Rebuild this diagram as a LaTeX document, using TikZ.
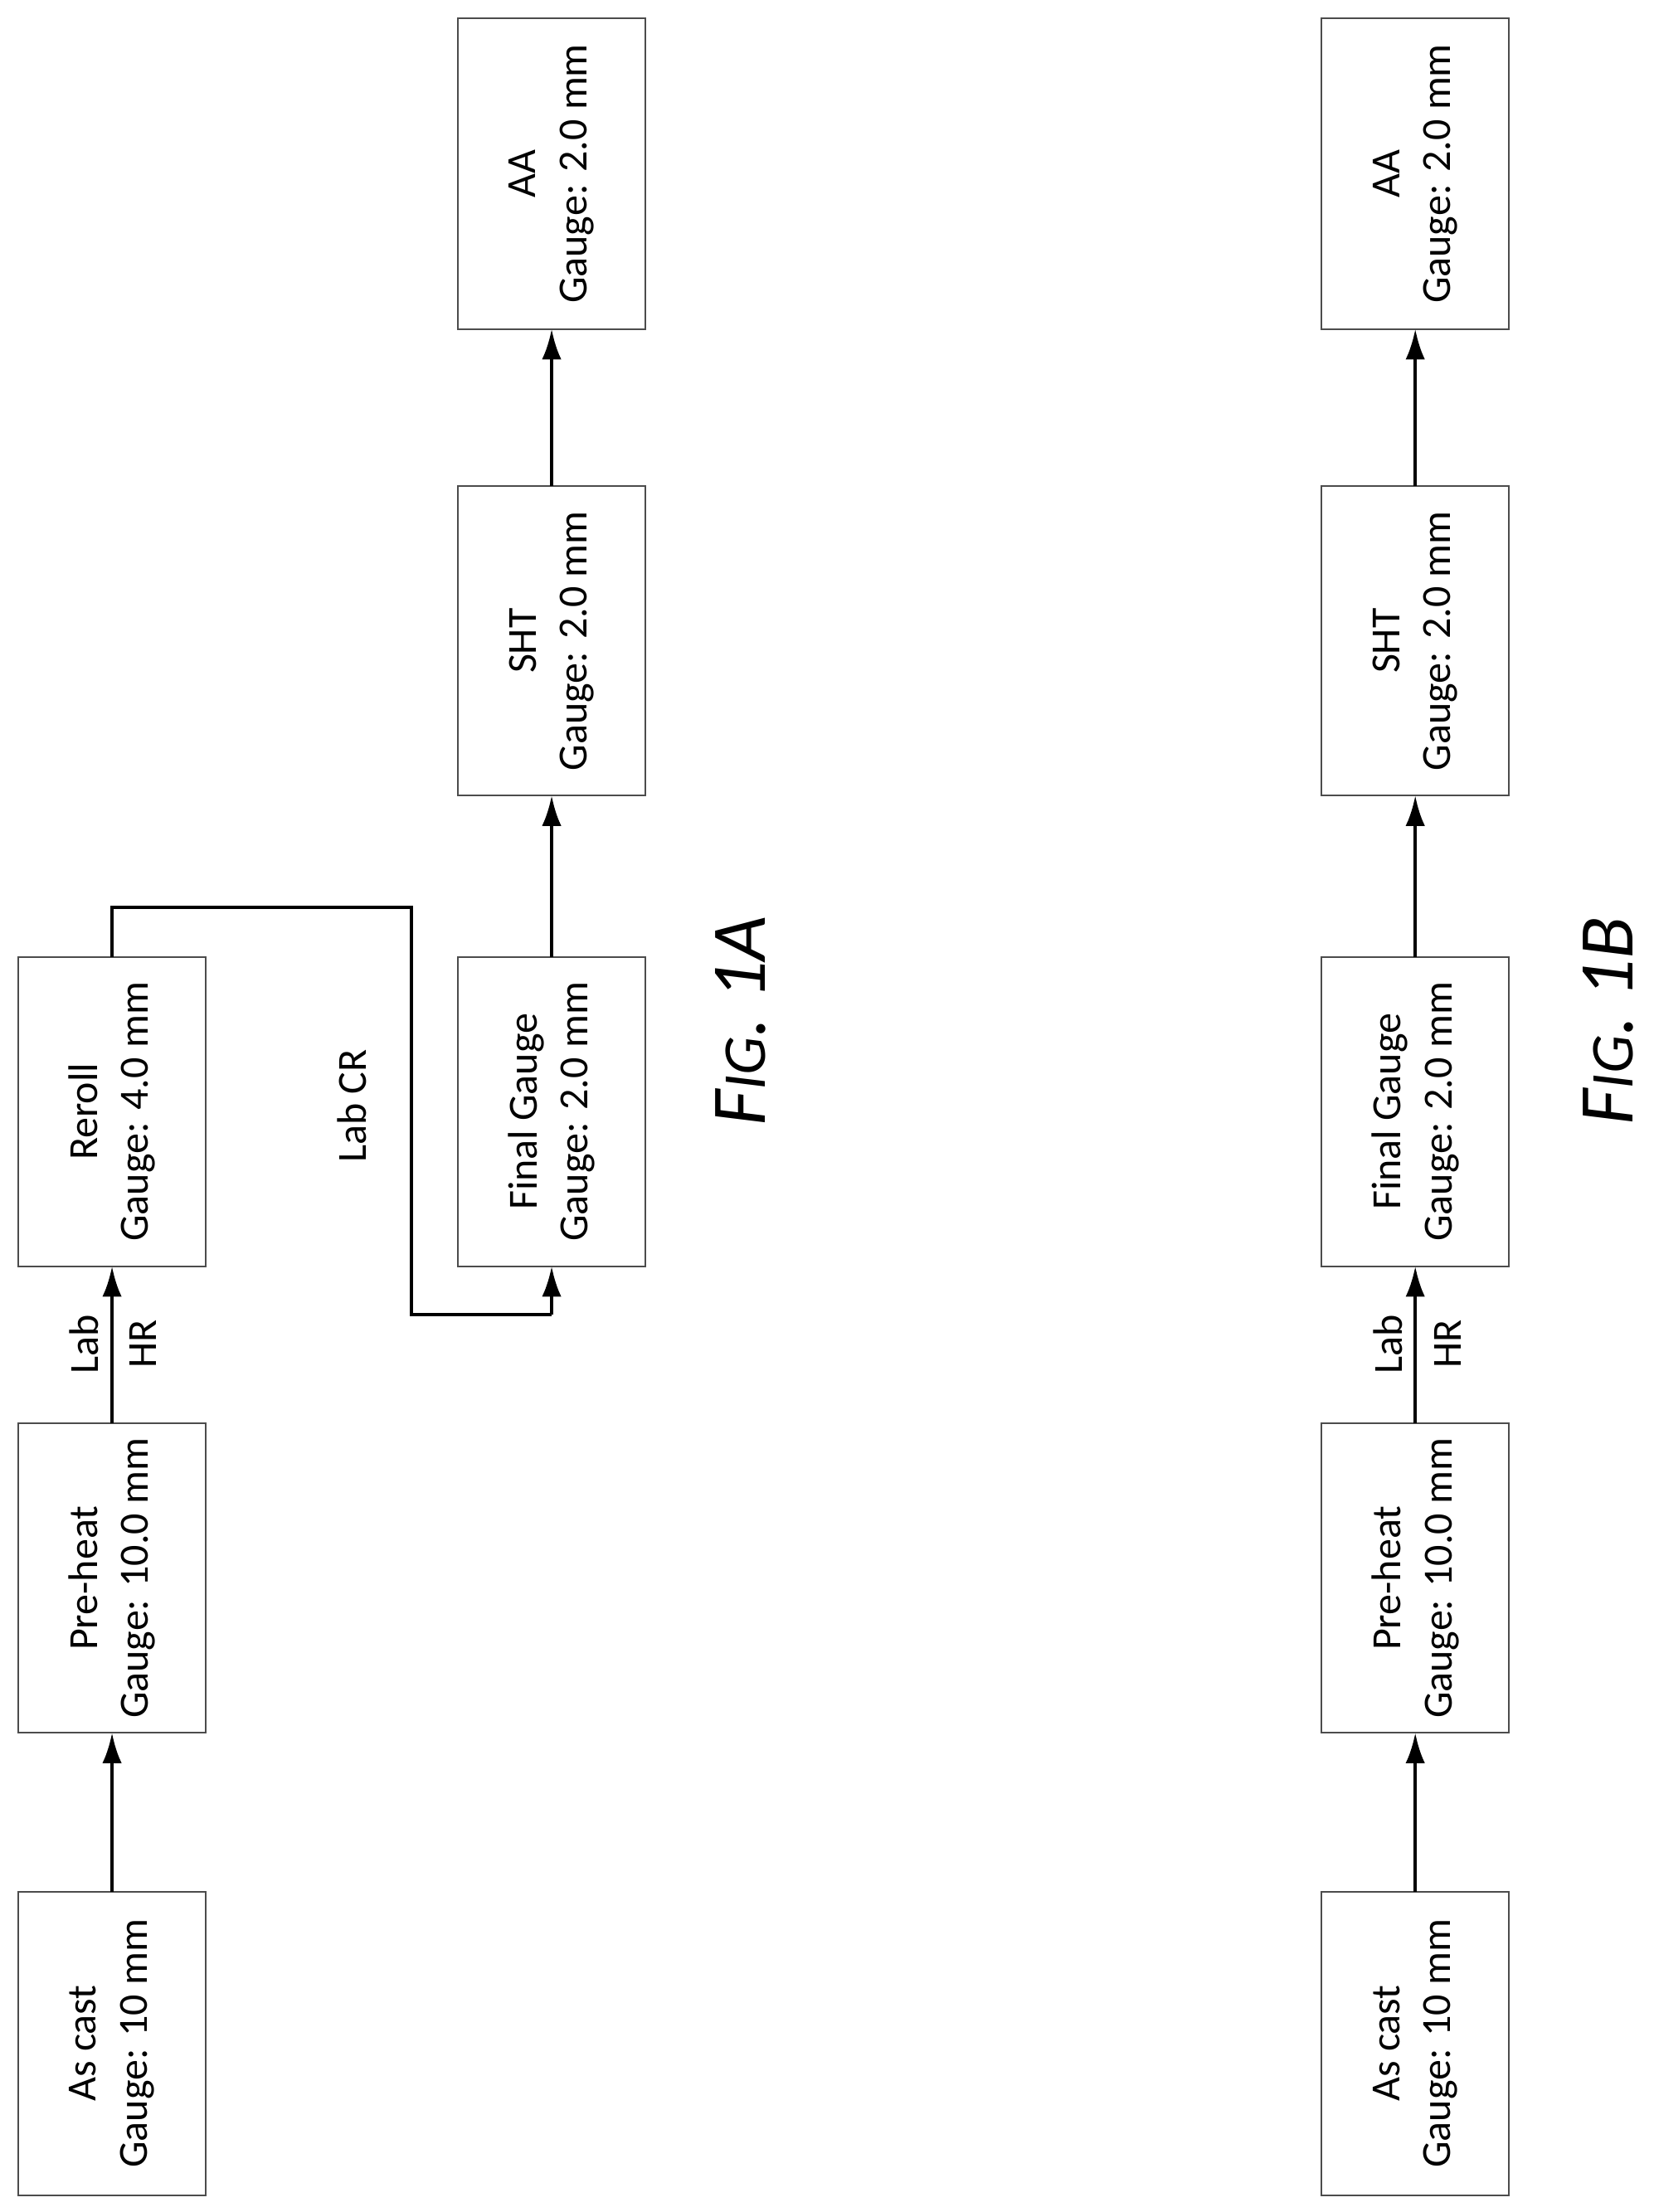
\documentclass[tikz,border=0pt]{standalone}
\usepackage{fontspec}
\setmainfont{Carlito}
\usetikzlibrary{arrows.meta}
\begin{document}
\begin{tikzpicture}[x=0.513pt,y=-0.513pt,
  box/.style={draw=black!70,line width=0.6pt},
  txt/.style={rotate=90,align=center,font=\fontsize{15}{18.5}\selectfont},
  arr/.style={line width=1.3pt,-{Latex[length=11pt,width=7pt]}},
  con/.style={line width=1.1pt},
  fig/.style={rotate=90,font=\fontsize{28}{32}\selectfont\itshape}]
\useasboundingbox (0,0) rectangle (1166,1560);
\newcommand{\bx}[6]{\draw[box] (#2,#3) rectangle (#4,#5); \node[txt] (#1) at ({(#2+#4)/2},{(#3+#5)/2}) {#6};
  \coordinate (#1t) at ({(#2+#4)/2},#3); \coordinate (#1b) at ({(#2+#4)/2},#5);}
% Fig 1A
\bx{a1}{13}{1334}{145}{1548}{As cast\\Gauge: 10 mm}
\bx{a2}{13}{1004}{145}{1222}{Pre-heat\\Gauge: 10.0 mm}
\bx{a3}{13}{675}{145}{893}{Reroll\\Gauge: 4.0 mm}
\bx{a4}{323}{675}{455}{893}{Final Gauge\\Gauge: 2.0 mm}
\bx{a5}{323}{343}{455}{561}{SHT\\Gauge: 2.0 mm}
\bx{a6}{323}{13}{455}{232}{AA\\Gauge: 2.0 mm}
\draw[arr] (a1t) -- (a2b);
\draw[arr] (a2t) -- (a3b);
\draw[arr] (a4t) -- (a5b);
\draw[arr] (a5t) -- (a6b);
\coordinate (c1) at (79,640); \coordinate (c2) at (290,640);
\coordinate (c3) at (290,927); \coordinate (c4) at (389,927);
\draw[con] (a3t) -- (c1) -- (c2) -- (c3) -- (c4);
\draw[arr] (c4) -- (a4b);
\node[txt] (lab1) at (59,948) {Lab};
\node[txt] (hr1) at (101,948) {HR};
\node[txt] (lcr) at (248,780) {Lab CR};
\node[fig] (f1) at (522,720) {F{\fontsize{22}{26}\selectfont IG}. 1A};
% Fig 1B
\bx{b1}{932}{1334}{1064}{1548}{As cast\\Gauge: 10 mm}
\bx{b2}{932}{1004}{1064}{1222}{Pre-heat\\Gauge: 10.0 mm}
\bx{b3}{932}{675}{1064}{893}{Final Gauge\\Gauge: 2.0 mm}
\bx{b4}{932}{343}{1064}{561}{SHT\\Gauge: 2.0 mm}
\bx{b5}{932}{13}{1064}{232}{AA\\Gauge: 2.0 mm}
\draw[arr] (b1t) -- (b2b);
\draw[arr] (b2t) -- (b3b);
\draw[arr] (b3t) -- (b4b);
\draw[arr] (b4t) -- (b5b);
\node[txt] (lab2) at (979,948) {Lab};
\node[txt] (hr2) at (1021,948) {HR};
\node[fig] (f2) at (1134,720) {F{\fontsize{22}{26}\selectfont IG}. 1B};
\end{tikzpicture}
\end{document}
